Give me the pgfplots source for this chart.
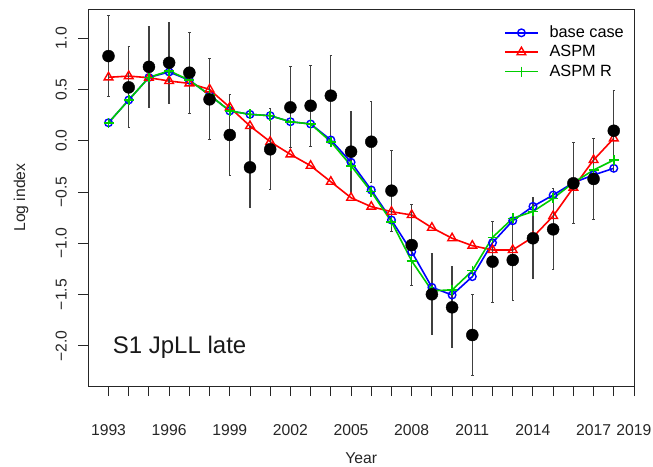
\documentclass[border=0pt]{standalone}
\usepackage{fontspec}
\setmainfont{Liberation Sans}
\usepackage{pgfplots}
\pgfplotsset{compat=1.18}
\definecolor{rgreen}{RGB}{0,205,0}
\definecolor{rred}{RGB}{255,0,0}
\definecolor{rblue}{RGB}{0,0,255}
\pgfplotsset{
  mylegend/.style={
    legend cell align=left,
    legend image code/.code={%
      \draw[##1] (0bp,0bp) -- (32.6bp,0bp);
      \draw[##1] plot[only marks] coordinates {(16.3bp,0bp)};},
    legend style={draw=none, fill=none, anchor=north west,
      font=\fontsize{16.3bp}{19bp}\selectfont, inner sep=0pt,
      nodes={inner ysep=0pt, text height=12bp, text depth=3bp},
      row sep=4.4bp,
      /tikz/every odd column/.append style={column sep=9bp}}
  }
}
\begin{document}
\begin{tikzpicture}
\path[use as bounding box] (0,0) rectangle (653bp,467bp);
\begin{axis}[
  at={(88.3bp,81bp)}, anchor=south west,
  width=545.7bp, height=376.7bp, scale only axis,
  xmin=1992, xmax=2019, ymin=-2.391, ymax=1.281,
  axis line style={line width=0.9bp, black!85},
  every tick/.style={line width=0.9bp, black!85},
  tick align=outside, tick pos=left,
  major tick length=10bp,
  xtick={1993,...,2019},
  xticklabels={1993,,,1996,,,1999,,,2002,,,2005,,,2008,,,2011,,,2014,,,2017,,2019},
  ytick={-2,-1.5,-1,-0.5,0,0.5,1},
  yticklabels={−2.0,−1.5,−1.0,−0.5,0.0,0.5,1.0},
  ticklabel style={font=\fontsize{15.7bp}{18bp}\selectfont, black!85},
  yticklabel style={rotate=90, anchor=south},
  xticklabel shift=25bp,
  yticklabel shift=8bp,
  xlabel={Year}, ylabel={Log index},
  label style={font=\fontsize{15.7bp}{18bp}\selectfont, black!85},
  xlabel style={at={(axis description cs:0.5,-0.207)}, anchor=base},
  ylabel style={at={(axis description cs:-0.1233,0.5)}, anchor=center},
  mylegend,
  legend style={at={(axis description cs:0.762,0.958)}},
  clip=false,
]
\addlegendimage{draw=rblue, line width=1.6bp, mark=o, mark size=3.8bp, mark options={line width=1.4bp, draw=rblue}}
\addlegendentry{base case}
\addlegendimage{draw=rred, line width=1.6bp, mark=triangle, mark size=5bp, mark options={line width=1.4bp, draw=rred}}
\addlegendentry{ASPM}
% base case
\addplot[forget plot, color=rblue, line width=1.6bp, mark=o, mark size=3.8bp, mark options={line width=1.4bp}] coordinates {
(1993,0.175) (1994,0.397) (1995,0.617) (1996,0.67) (1997,0.59) (1998,0.445) (1999,0.29) (2000,0.257) (2001,0.244) (2002,0.185) (2003,0.163) (2004,0.007) (2005,-0.21) (2006,-0.48) (2007,-0.773) (2008,-1.082) (2009,-1.429) (2010,-1.504) (2011,-1.325) (2012,-0.994) (2013,-0.78) (2014,-0.64) (2015,-0.53) (2016,-0.409) (2017,-0.334) (2018,-0.269)};
% ASPM
\addplot[forget plot, color=rred, line width=1.6bp, mark=triangle, mark size=5bp, mark options={line width=1.4bp}] coordinates {
(1993,0.618) (1994,0.63) (1995,0.614) (1996,0.582) (1997,0.559) (1998,0.5) (1999,0.325) (2000,0.143) (2001,-0.01) (2002,-0.133) (2003,-0.244) (2004,-0.4) (2005,-0.556) (2006,-0.643) (2007,-0.692) (2008,-0.724) (2009,-0.848) (2010,-0.951) (2011,-1.023) (2012,-1.065) (2013,-1.065) (2014,-0.94) (2015,-0.734) (2016,-0.458) (2017,-0.188) (2018,0.023)};
% ASPM R
\addplot[forget plot, color=rgreen, line width=1.6bp, mark=+, mark size=5bp, mark options={line width=1.6bp}] coordinates {
(1993,0.175) (1994,0.397) (1995,0.617) (1996,0.682) (1997,0.59) (1998,0.445) (1999,0.29) (2000,0.257) (2001,0.244) (2002,0.185) (2003,0.163) (2004,-0.01) (2005,-0.244) (2006,-0.497) (2007,-0.79) (2008,-1.172) (2009,-1.462) (2010,-1.455) (2011,-1.267) (2012,-0.942) (2013,-0.757) (2014,-0.69) (2015,-0.562) (2016,-0.409) (2017,-0.286) (2018,-0.188)};
% observed with error bars
\addplot[only marks, mark=*, mark size=6bp, black, forget plot,
  error bars/.cd, y dir=both, y explicit,
  error bar style={line width=1.3bp, black!75},
  error mark options={line width=1bp, black!75, mark size=1.2bp, rotate=90}] coordinates {
(1993,0.825) +- (0,0.395)
(1994,0.52) +- (0,0.395)
(1995,0.72) +- (0,0.395)
(1996,0.76) +- (0,0.395)
(1997,0.663) +- (0,0.395)
(1998,0.403) +- (0,0.395)
(1999,0.056) +- (0,0.395)
(2000,-0.26) +- (0,0.395)
(2001,-0.084) +- (0,0.395)
(2002,0.325) +- (0,0.395)
(2003,0.341) +- (0,0.395)
(2004,0.439) +- (0,0.395)
(2005,-0.107) +- (0,0.395)
(2006,-0.01) +- (0,0.395)
(2007,-0.487) +- (0,0.395)
(2008,-1.017) +- (0,0.395)
(2009,-1.497) +- (0,0.395)
(2010,-1.624) +- (0,0.395)
(2011,-1.894) +- (0,0.395)
(2012,-1.179) +- (0,0.395)
(2013,-1.163) +- (0,0.395)
(2014,-0.951) +- (0,0.395)
(2015,-0.864) +- (0,0.395)
(2016,-0.415) +- (0,0.395)
(2017,-0.373) +- (0,0.395)
(2018,0.097) +- (0,0.395)
};
\node[anchor=base west, inner sep=0pt, font=\fontsize{24bp}{28bp}\selectfont, text=black!90] at (axis description cs:0.0447,0.085) {S1 JpLL late};
\end{axis}
\begin{axis}[
  at={(88.3bp,81bp)}, anchor=south west,
  width=545.7bp, height=376.7bp, scale only axis,
  xmin=1992, xmax=2019, ymin=-2.391, ymax=1.281,
  hide axis,
  mylegend,
  legend style={at={(axis description cs:0.762,0.855)}},
]
\addlegendimage{draw=rgreen, line width=1.6bp, mark=+, mark size=5bp, mark options={line width=1.6bp, draw=rgreen}}
\addlegendentry{ASPM R}
\end{axis}
\end{tikzpicture}
\end{document}
